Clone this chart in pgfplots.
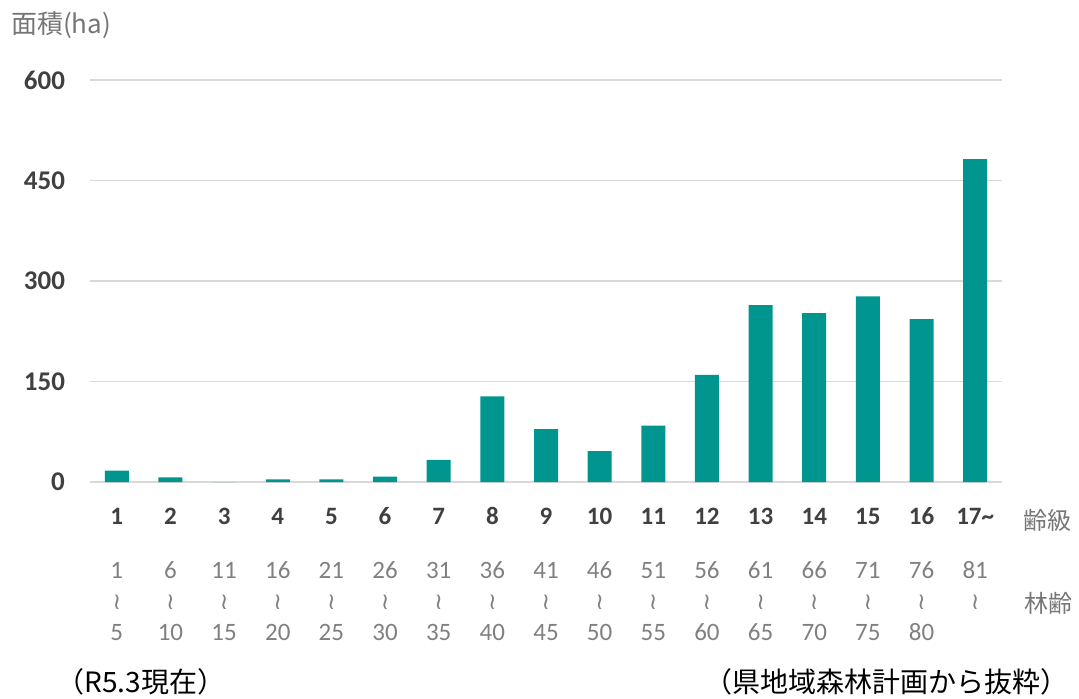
\documentclass[border=0pt]{standalone}
\usepackage{fontspec}
\setmainfont{Carlito}
\newfontfamily\jp{Noto Sans CJK JP}
\newfontfamily\dv{DejaVu Sans}
\usepackage{pgfplots}
\pgfplotsset{compat=1.18}
\definecolor{barc}{RGB}{0,150,143}
\definecolor{gridc}{RGB}{217,217,217}
\definecolor{dark}{RGB}{64,64,64}
\definecolor{mid}{RGB}{128,128,128}
\definecolor{cap}{RGB}{118,118,118}
% tick label: class (bold) over the age range
\newcommand{\xl}[3]{{\bfseries\color{dark}\strut#1}\\[11.5pt]#2\\{\dv\fontsize{11.5}{15.5}\selectfont ≀}\\#3}
\begin{document}
\begin{tikzpicture}
\useasboundingbox (0,0) rectangle (539.5pt,349pt);
\begin{axis}[
    at={(45pt,108pt)}, anchor=south west,
    scale only axis, width=456pt, height=201pt,
    xmin=0.5, xmax=17.5, ymin=0, ymax=600,
    ytick={0,150,300,450,600},
    xtick={1,...,17},
    xticklabels={{\xl{1}{1}{5}},{\xl{2}{6}{10}},{\xl{3}{11}{15}},{\xl{4}{16}{20}},
      {\xl{5}{21}{25}},{\xl{6}{26}{30}},{\xl{7}{31}{35}},{\xl{8}{36}{40}},
      {\xl{9}{41}{45}},{\xl{10}{46}{50}},{\xl{11}{51}{55}},{\xl{12}{56}{60}},
      {\xl{13}{61}{65}},{\xl{14}{66}{70}},{\xl{15}{71}{75}},{\xl{16}{76}{80}},
      {\xl{17\textasciitilde}{81}{}}},
    axis lines*=left, axis line style={draw=none},
    major tick length=0,
    ymajorgrids, grid style={gridc, line width=0.9pt},
    ybar, bar width=12pt,
    /pgf/number format/assume math mode=true,
    yticklabel style={font=\fontsize{13.5}{15.5}\selectfont\bfseries, text=dark, xshift=-9pt},
    xticklabel style={font=\fontsize{12.5}{15.5}\selectfont, text=mid, align=center, anchor=north, yshift=-7pt},
]
\addplot[fill=barc, draw=none] coordinates {
  (1,17) (2,7) (3,0) (4,4) (5,4) (6,8) (7,33) (8,128) (9,79) (10,46)
  (11,84) (12,160) (13,264) (14,252) (15,277) (16,243) (17,482)};
\end{axis}
\node[anchor=west, text=cap, font=\jp\fontsize{13}{15}\selectfont] at (2pt,336.5pt) {面積(ha)};
\node[text=cap, font=\jp\fontsize{12}{14}\selectfont] at (523.5pt,89pt) {齢級};
\node[text=cap, font=\jp\fontsize{12}{14}\selectfont] at (524pt,47.5pt) {林齢};
\node[text=black, font=\jp\fontsize{14}{16}\selectfont] at (70.5pt,8pt) {（R5.3現在）};
\node[text=black, font=\jp\fontsize{14}{16}\selectfont] at (443pt,8pt) {（県地域森林計画から抜粋）};
\end{tikzpicture}
\end{document}
